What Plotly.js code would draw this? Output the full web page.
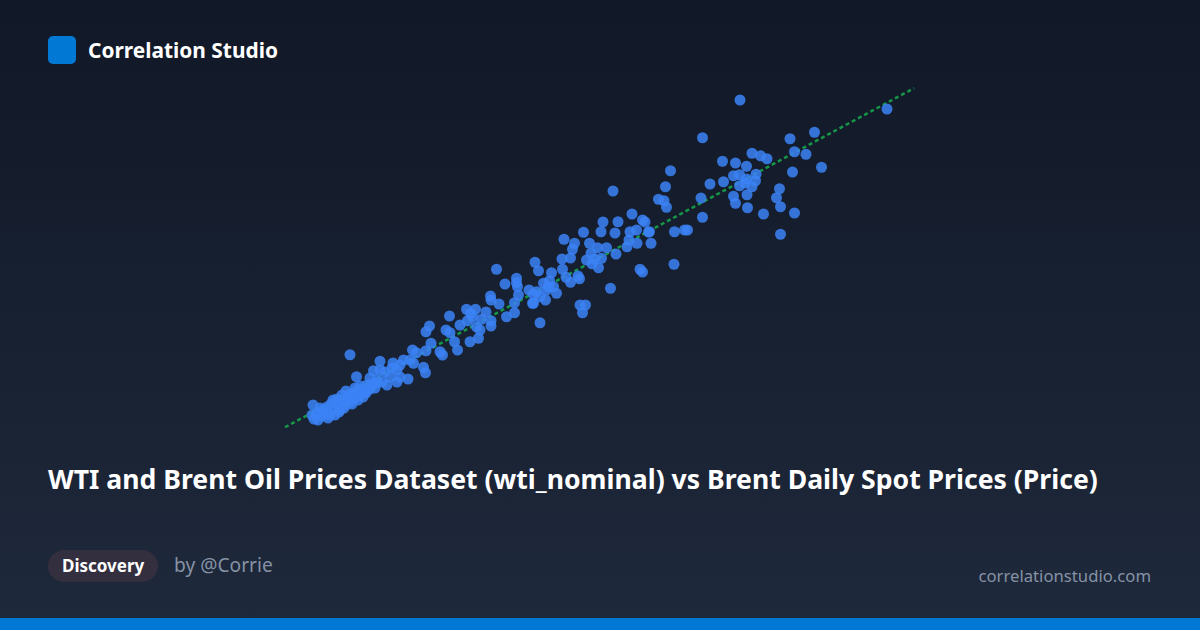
<!DOCTYPE html>
<html>
<head>
<meta charset="utf-8">
<script src="https://cdn.plot.ly/plotly-3.0.1.min.js"></script>
<style>
  html, body { margin: 0; padding: 0; }
  body {
    width: 1200px; height: 630px; overflow: hidden; position: relative;
    background: linear-gradient(180deg, #111827 0%, #1e293b 100%);
    font-family: "Noto Sans", "Open Sans", sans-serif;
  }
  #chart { position: absolute; left: 0; top: 0; width: 1200px; height: 630px; }
  .logo { position: absolute; left: 48px; top: 36px; width: 28px; height: 28px; border-radius: 5px; background: #0078d4; }
  .brand { position: absolute; left: 88px; top: 35px; font-size: 20.9px; font-weight: 700; color: #ffffff; line-height: 30px; }
  .title { position: absolute; left: 48px; top: 460px; font-size: 26.6px; font-weight: 700; color: #ffffff; line-height: 38px; white-space: nowrap; }
  .pill { position: absolute; left: 48px; top: 550px; height: 32px; padding: 0 14px; border-radius: 16px; background: #332f3f; color: #ffffff; font-size: 17px; font-weight: 700; line-height: 32px; }
  .by { position: absolute; left: 174px; top: 550px; font-size: 19.2px; color: #8592a6; line-height: 30px; }
  .site { position: absolute; right: 49px; top: 562px; font-size: 16.7px; color: #8592a6; line-height: 28px; }
  .bar { position: absolute; left: 0; bottom: 0; width: 1200px; height: 12px; background: #0078d4; }
</style>
</head>
<body>
<div id="chart"></div>
<div class="logo"></div>
<div class="brand">Correlation Studio</div>
<div class="title">WTI and Brent Oil Prices Dataset (wti_nominal) vs Brent Daily Spot Prices (Price)</div>
<div class="pill">Discovery</div>
<div class="by">by @Corrie</div>
<div class="site">correlationstudio.com</div>
<div class="bar"></div>
<script>
// WTI nominal price (x) and Brent spot price (y)
const wtiNominal = [
  94.0,123.4,86.5,104.0,108.9,104.9,107.2,110.3,96.4,98.1,99.4,90.5,93.1,95.3,104.5,88.0,90.7,92.7,93.9,95.3,
  97.2,97.1,96.4,93.9,95.0,101.9,92.7,95.4,93.1,101.3,86.2,102.1,95.5,98.7,104.9,86.5,102.1,80.1,79.1,77.7,
  78.8,79.3,80.9,82.9,83.5,74.5,75.0,75.9,76.2,68.6,
  72.4,66.6,69.6,66.2,69.0,62.7,72.0,75.7,73.3,58.8,60.9,63.9,71.8,73.4,71.4,67.3,65.5,60.5,69.2,64.2,
  53.0,58.4,60.1,63.3,64.9,66.3,65.7,64.4,53.7,56.3,58.5,59.2,61.6,61.9,60.1,80.8,74.0,74.5,55.9,56.7,
  54.7,55.3,53.3,52.7,54.0,57.3,55.1,68.1,52.7,62.0,63.1,62.5,54.0,55.7,
  47.0,49.3,49.5,44.1,44.2,45.8,48.9,48.9,47.3,52.5,45.3,35.9,39.3,41.1,40.1,40.5,39.5,42.3,44.2,44.2,
  41.3,42.0,31.9,31.2,35.2,36.0,36.9,40.0,41.7,32.2,31.2,34.0,34.5,37.5,30.7,31.1,49.7,43.2,38.0,28.5,
  29.3,28.0,28.7,26.7,51.8,49.3,
  16.0,22.0,20.7,17.3,24.6,26.0,25.4,23.0,24.0,26.0,27.6,22.4,21.4,23.4,25.4,24.4,22.0,20.0,
  8.6,8.8,9.6,10.4,10.0,11.2,12.0,12.6,13.0,13.6,14.0,14.6,15.0,15.6,16.0,16.4,17.0,17.4,18.0,18.4,
  19.0,19.4,20.0,20.4,19.2,11.4,12.2,13.4,14.4,15.2,10.6,9.4,17.0,18.0,14.8,16.4,17.6,18.6,11.6,13.0,
  8.4,21.4,21.0,13.8,15.8
];
const brentPrice = [
  136.0,132.4,120.9,120.5,123.1,115.3,114.3,109.1,114.7,113.7,112.5,111.5,110.8,109.5,107.2,102.4,103.3,105.7,106.1,104.4,
  106.3,103.7,101.3,101.7,102.8,100.5,97.5,98.1,94.7,96.9,96.8,93.3,92.9,90.4,90.8,89.1,82.3,107.7,101.3,96.3,
  95.7,93.1,83.3,84.0,84.0,88.0,87.2,83.3,78.7,99.6,
  90.4,87.2,87.3,83.3,82.8,83.1,83.3,83.2,84.0,80.3,78.7,78.7,80.0,78.7,77.3,76.9,76.9,76.3,74.4,74.7,
  71.1,72.4,72.8,72.0,72.3,72.7,68.9,70.5,67.7,66.9,68.3,65.1,65.6,64.5,63.1,70.3,68.3,67.2,63.7,61.3,
  62.7,60.0,59.3,58.3,57.3,58.7,56.0,60.7,54.7,54.0,54.0,50.9,46.9,61.3,
  62.4,62.9,61.3,57.6,56.0,54.4,54.9,50.9,49.3,54.7,68.3,49.6,52.3,52.3,50.7,49.3,47.7,48.3,47.7,45.6,
  45.3,44.0,45.6,43.3,44.0,42.9,39.3,39.3,40.7,38.7,35.7,35.3,34.0,36.0,29.1,26.9,58.0,51.2,46.0,36.0,
  34.9,32.0,30.7,32.0,60.0,64.7,
  34.1,31.5,27.7,25.3,30.8,30.0,28.0,27.2,25.2,25.2,24.4,23.2,22.8,22.0,23.2,28.8,28.0,24.8,
  14.0,8.4,8.0,9.6,12.8,11.2,10.0,16.0,12.4,14.4,12.0,16.0,14.0,16.8,15.2,18.4,16.8,19.6,18.4,20.4,
  19.2,22.0,20.4,22.4,18.8,13.2,14.4,16.4,18.0,19.6,12.0,10.8,20.8,21.6,12.8,14.4,16.0,17.2,8.8,10.0,
  10.0,24.0,20.8,11.2,18.0
];

// least-squares trend line computed from the data
const n = wtiNominal.length;
let sx = 0, sy = 0, sxx = 0, sxy = 0;
for (let i = 0; i < n; i++) {
  sx += wtiNominal[i]; sy += brentPrice[i];
  sxx += wtiNominal[i] * wtiNominal[i]; sxy += wtiNominal[i] * brentPrice[i];
}
const slope = (n * sxy - sx * sy) / (n * sxx - sx * sx);
const intercept = (sy - slope * sx) / n;
const xMin = Math.min(...wtiNominal), xMax = Math.max(...wtiNominal);
const pad = (xMax - xMin) * 0.047;
const trendX = [xMin - pad, xMax + pad];
const trendY = trendX.map(v => intercept + slope * v);

const traces = [
  {
    x: trendX, y: trendY, type: 'scatter', mode: 'lines',
    line: { color: '#16a34a', width: 2.5, dash: '4px,3px' }, opacity: 0.9,
    hoverinfo: 'skip', showlegend: false
  },
  {
    x: wtiNominal, y: brentPrice, type: 'scatter', mode: 'markers',
    marker: { color: '#3b82f6', size: 11, opacity: 0.85, line: { width: 0 } },
    showlegend: false
  }
];

const layout = {
  width: 1200, height: 630,
  margin: { l: 270, r: 270, t: 80, b: 190 },
  paper_bgcolor: 'rgba(0,0,0,0)', plot_bgcolor: 'rgba(0,0,0,0)',
  xaxis: { range: [0, 132], visible: false, showgrid: false, zeroline: false },
  yaxis: { range: [0, 144], visible: false, showgrid: false, zeroline: false },
  showlegend: false
};

Plotly.newPlot('chart', traces, layout, { displayModeBar: false, staticPlot: true });
</script>
</body>
</html>
